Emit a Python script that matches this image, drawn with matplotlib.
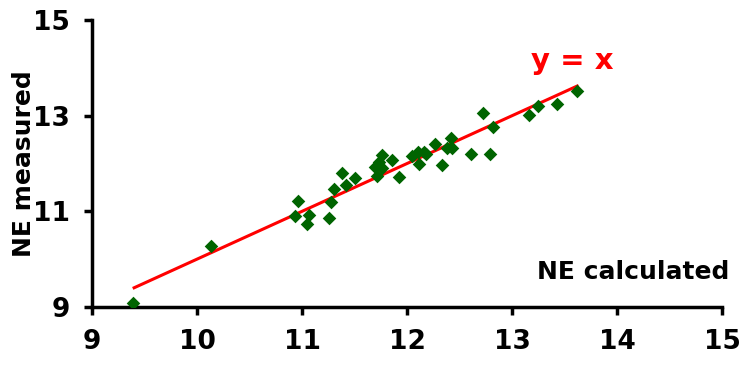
import numpy as np
from matplotlib import pyplot as plt

# NE calculated vs NE measured
ne_calc = [9.39, 10.13, 10.96, 10.93, 11.07, 11.05, 11.26, 11.28, 11.30, 11.38,
           11.42, 11.50, 11.69, 11.71, 11.73, 11.76, 11.76, 11.86, 11.92, 12.05,
           12.10, 12.11, 12.16, 12.18, 12.27, 12.33, 12.38, 12.42, 12.43, 12.61,
           12.72, 12.79, 12.82, 13.16, 13.25, 13.43, 13.62]
ne_meas = [9.08, 10.27, 11.21, 10.90, 10.92, 10.73, 10.85, 11.19, 11.46, 11.81,
           11.54, 11.69, 11.92, 11.73, 12.04, 12.17, 11.90, 12.08, 11.71, 12.15,
           12.23, 11.98, 12.25, 12.19, 12.40, 11.96, 12.33, 12.54, 12.33, 12.19,
           13.06, 12.19, 12.77, 13.02, 13.21, 13.25, 13.52]

line_x = [9.4, 13.62]
x_ticks = [9, 10, 11, 12, 13, 14, 15]
y_ticks = [9, 11, 13, 15]

plt.rcParams["font.family"] = ["DejaVu Sans"]
plt.rcParams["font.weight"] = "bold"

fig = plt.figure(figsize=(7.49, 3.72), dpi=100)
ax = fig.add_axes([0.123, 0.175, 0.841, 0.771])

ax.plot(line_x, line_x, color="red", lw=2.2, zorder=2)
ax.scatter(ne_calc, ne_meas, marker="D", s=48, color="#006400", zorder=3, linewidths=0)

ax.set_xlim(9, 15)
ax.set_ylim(9, 15)
ax.set_xticks(x_ticks)
ax.set_yticks(y_ticks)
ax.tick_params(labelsize=19, width=2.5, length=6, pad=10)
for lab in ax.get_xticklabels() + ax.get_yticklabels():
    lab.set_fontweight("bold")

ax.spines['top'].set_visible(False)
ax.spines['right'].set_visible(False)
ax.spines['left'].set_linewidth(2.5)
ax.spines['bottom'].set_linewidth(2.5)

ax.set_ylabel("NE measured", fontsize=18, fontweight="bold", labelpad=-2)
ax.text(14.15, 9.73, "NE calculated", fontsize=18, fontweight="bold",
        ha="center", va="center")
ax.text(13.57, 14.15, "y = x", fontsize=21, fontweight="bold", color="red",
        ha="center", va="center")

plt.savefig("out.png", dpi=100)
